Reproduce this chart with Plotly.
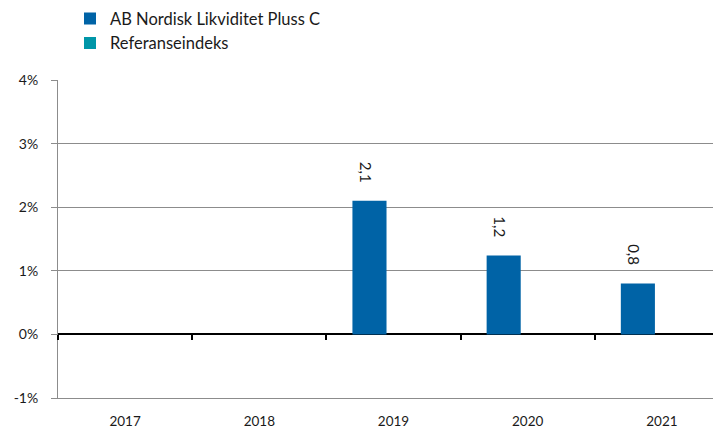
import plotly.graph_objects as go

years = ["2017", "2018", "2019", "2020", "2021"]
fund_values = [None, None, 2.1, 1.24, 0.8]
fund_labels = ["", "", "2,1", "1,2", "0,8"]
index_values = [None, None, None, None, None]
y_ticks = [-1, 0, 1, 2, 3, 4]
y_tick_text = ["-1%", "0%", "1%", "2%", "3%", "4%"]

FONT = "Lato"
BLUE = "#0063A6"
TEAL = "#0096A8"
GRID = "#8C8C8C"

fig = go.Figure()
fig.add_trace(go.Bar(
    x=list(range(len(years))), y=fund_values, name="AB Nordisk Likviditet Pluss C",
    marker=dict(color=BLUE, line=dict(width=0)), width=0.254, offset=-0.306,
))
fig.add_trace(go.Bar(
    x=list(range(len(years))), y=index_values, name="Referanseindeks",
    marker=dict(color=TEAL, line=dict(width=0)), width=0.254, offset=-0.052,
))

for i, (v, t) in enumerate(zip(fund_values, fund_labels)):
    if v is None:
        continue
    fig.add_annotation(
        x=i - 0.179, y=v, text=t, showarrow=False, textangle=90,
        xanchor="center", yanchor="bottom", yshift=16, xshift=-4,
        font=dict(family=FONT, size=15, color="#1a1a1a"),
    )

# invisible axis carrying category boundary ticks on the zero line
fig.add_trace(go.Scatter(x=[None], y=[None], xaxis="x2", showlegend=False, hoverinfo="skip"))

xr = [-0.5, 4.5]
fig.update_layout(
    width=721, height=431,
    margin=dict(l=50, r=0, t=72, b=41, autoexpand=False),
    plot_bgcolor="white", paper_bgcolor="white",
    barmode="overlay",
    font=dict(family=FONT, size=14, color="#1a1a1a"),
    xaxis=dict(
        range=xr, tickvals=list(range(len(years))), ticktext=years,
        showgrid=False, zeroline=False, ticks="", showline=True,
        linecolor=GRID, linewidth=1, tickfont=dict(size=13.5), automargin=False,
        ticklabelstandoff=11,
    ),
    xaxis2=dict(
        range=xr, overlaying="x", anchor="free", position=0.2, side="bottom",
        tickvals=[-0.5, 0.5, 1.5, 2.5, 3.5, 4.5], showticklabels=False,
        ticks="outside", ticklen=5, tickwidth=2, tickcolor="black",
        showgrid=False, zeroline=False, showline=False, automargin=False,
    ),
    yaxis=dict(
        range=[-1, 4], tickvals=y_ticks, ticktext=y_tick_text,
        showgrid=True, gridcolor=GRID, gridwidth=1,
        zeroline=True, zerolinecolor="black", zerolinewidth=2,
        showline=True, linecolor=GRID, linewidth=1,
        ticks="outside", ticklen=6, tickcolor=GRID, tickfont=dict(size=14),
        automargin=False, ticklabelstandoff=10,
    ),
    legend=dict(
        x=(70 - 58) / 671, y=1 + (80 + 5) / 318 - 0.02,
        xanchor="left", yanchor="top", orientation="v",
        font=dict(family=FONT, size=16.5), bgcolor="rgba(0,0,0,0)",
        tracegroupgap=0,
    ),
)

fig.write_html("out.html")
